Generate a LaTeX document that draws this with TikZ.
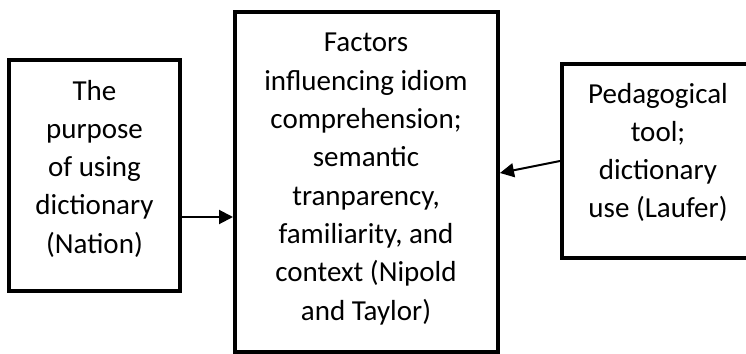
\documentclass[tikz,border=0pt]{standalone}
\usepackage{fontspec}
\setmainfont{Carlito}
\usetikzlibrary{arrows.meta}
\newcommand\boxtext[1]{\begin{tabular}[t]{@{}c@{}}#1\end{tabular}}
\begin{document}
\begin{tikzpicture}[x=1pt,y=-1pt,
  box/.style={draw=black,line width=4pt,rectangle,inner sep=0pt},
  txt/.style={anchor=base,inner sep=0pt,text=black,font=\fontsize{29}{38.3}\selectfont},
  arr/.style={line width=2pt,-{Triangle[length=14pt,width=14pt]}}]
\useasboundingbox (0,0) rectangle (746,353);
\clip (0,0) rectangle (746,353);
% boxes
\node[box,minimum width=171pt,minimum height=231pt] (L) at (94.5,175.5) {};
\node[box,minimum width=263pt,minimum height=340pt] (C) at (366.5,182) {};
\node[box,minimum width=200pt,minimum height=194pt] (R) at (662,161) {};
% texts
\node[txt] (Lt) at (94.5,100) {\boxtext{The\\purpose\\of using\\dictionary\\(Nation)}};
\node[txt] (Ct) at (366,52) {\boxtext{Factors\\influencing idiom\\comprehension;\\semantic\\tranparency,\\familiarity, and\\context (Nipold\\and Taylor)}};
\node[txt] (Rt) at (658,103) {\boxtext{Pedagogical\\tool;\\dictionary\\use (Laufer)}};
% connectors
\draw[arr] (L.east |- 0,217) -- (C.west |- 0,217);
\draw[arr] (R.west |- 0,161) -- (C.east |- 0,173);
\end{tikzpicture}
\end{document}
